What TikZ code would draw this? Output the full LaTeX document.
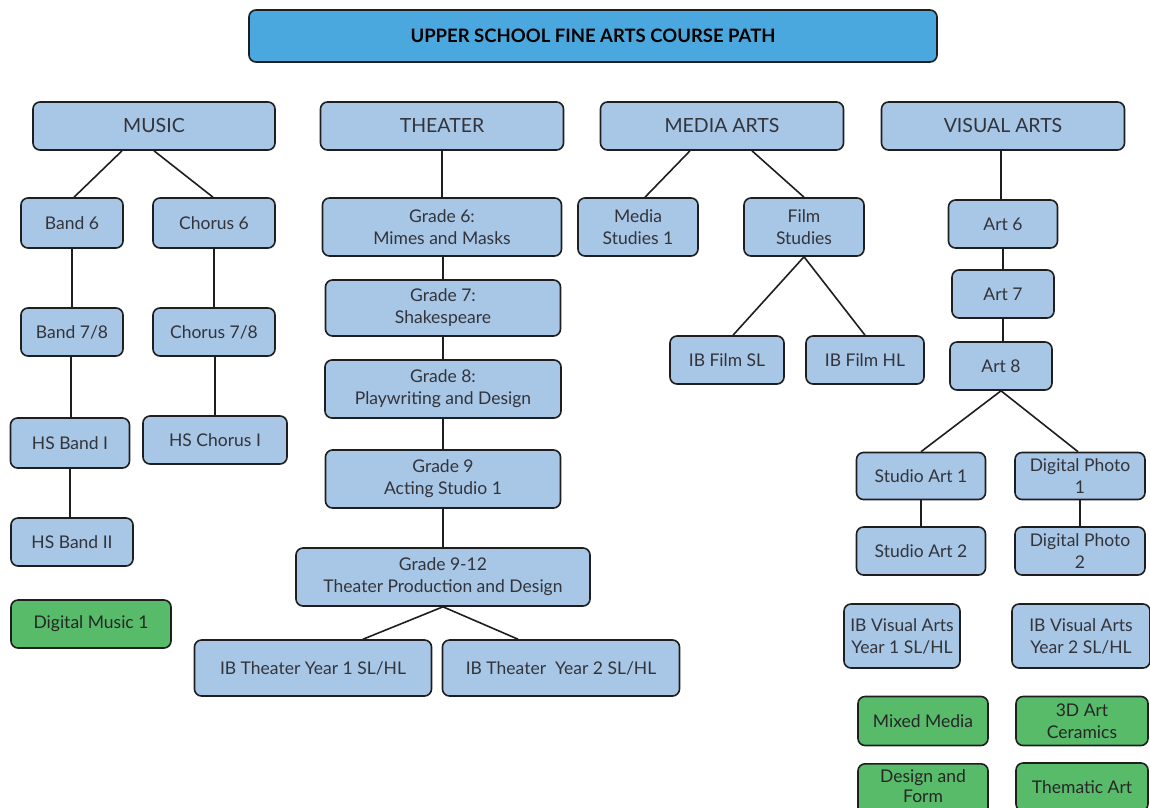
\documentclass[tikz,border=0pt]{standalone}
\usepackage{fontspec}
\setmainfont{Lato}
\definecolor{titleblue}{RGB}{74,168,222}
\definecolor{boxblue}{RGB}{168,198,230}
\definecolor{boxgreen}{RGB}{87,187,106}
\definecolor{textgray}{RGB}{50,52,58}
\definecolor{edge}{RGB}{30,30,30}
\tikzset{
  box/.style={draw=edge, line width=1.6pt, rounded corners=7pt, fill=boxblue, text=textgray,
    align=center, inner sep=1pt, font=\fontsize{17.5}{22}\selectfont},
  gbox/.style={box, fill=boxgreen, text=black!85},
  cat/.style={box, font=\fontsize{19.5}{23}\selectfont},
  titlebox/.style={box, fill=titleblue, text=black, font=\fontsize{18.5}{22}\selectfont\bfseries},
  conn/.style={draw=edge, line width=1.6pt},
}
\newcommand{\bx}[7]{\node[#1, minimum width=#5pt, minimum height=#6pt] (#2) at (#3,#4) {#7};}
\begin{document}
\begin{tikzpicture}[x=1pt,y=-1pt]
\useasboundingbox (0,0) rectangle (1150,807);
\clip (0,0) rectangle (1150,807);
\bx{titlebox}{title}{593}{36}{688}{52}{UPPER SCHOOL FINE ARTS COURSE PATH}
% categories
\bx{cat}{music}{154}{126}{242}{48}{MUSIC}
\bx{cat}{theater}{442}{126}{243}{48}{THEATER}
\bx{cat}{media}{722}{126}{243}{48}{MEDIA ARTS}
\bx{cat}{visual}{1003}{126}{243}{48}{VISUAL ARTS}
% music
\bx{box}{band6}{72}{223}{102}{50}{Band 6}
\bx{box}{chorus6}{214}{223}{122}{50}{Chorus 6}
\bx{box}{band78}{72}{332}{102}{48}{Band 7/8}
\bx{box}{chorus78}{214}{332}{122}{48}{Chorus 7/8}
\bx{box}{hsband1}{70}{443}{119}{50}{HS Band I}
\bx{box}{hschorus1}{215}{440}{144}{48}{HS Chorus I}
\bx{box}{hsband2}{72}{542}{122}{48}{HS Band II}
\bx{gbox}{dmusic}{91}{624}{160}{48}{Digital Music 1}
% theater
\bx{box}{g6}{442}{227}{239}{58}{Grade 6:\\Mimes and Masks}
\bx{box}{g7}{443}{308}{235}{56}{Grade 7:\\Shakespeare}
\bx{box}{g8}{443}{389}{236}{58}{Grade 8:\\Playwriting and Design}
\bx{box}{g9}{443}{479}{235}{58}{Grade 9\\Acting Studio 1}
\bx{box}{g912}{443}{577}{294}{58}{Grade 9-12\\Theater Production and Design}
\bx{box}{ibt1}{313}{668}{237}{56}{IB Theater Year 1 SL/HL}
\bx{box}{ibt2}{561}{668}{237}{56}{IB Theater~ Year 2 SL/HL}
% media arts
\bx{box}{mstud}{638}{227}{120}{58}{Media\\Studies 1}
\bx{box}{film}{804}{227}{120}{58}{Film\\Studies}
\bx{box}{ibfsl}{727}{360}{114}{48}{IB Film SL}
\bx{box}{ibfhl}{865}{360}{118}{48}{IB Film HL}
% visual arts
\bx{box}{art6}{1003}{224}{109}{48}{Art 6}
\bx{box}{art7}{1003}{294}{102}{48}{Art 7}
\bx{box}{art8}{1001}{366}{102}{48}{Art 8}
\bx{box}{sa1}{921}{476}{129}{47}{Studio Art 1}
\bx{box}{dp1}{1080}{476}{130}{47}{Digital Photo\\1}
\bx{box}{sa2}{921}{551}{129}{48}{Studio Art 2}
\bx{box}{dp2}{1080}{551}{130}{48}{Digital Photo\\2}
\bx{box}{ibva1}{902}{636}{116}{64}{IB Visual Arts\\Year 1 SL/HL}
\bx{box}{ibva2}{1081}{636}{138}{64}{IB Visual Arts\\Year 2 SL/HL}
\bx{gbox}{mixed}{923}{721}{130}{49}{Mixed Media}
\bx{gbox}{ceram}{1082}{721}{132}{49}{3D Art\\Ceramics}
\node[gbox, minimum width=130pt, minimum height=52pt, text depth=0pt, anchor=north] (design) at (923,763) {};
\node[font=\fontsize{17.5}{20}\selectfont, text=black!85, align=center, inner sep=0pt, anchor=north] (designtxt) at ([yshift=-6pt]design.north) {Design and\\Form};
\bx{gbox}{thematic}{1082}{787}{132}{48}{Thematic Art}
% connectors music
\draw[conn] ([xshift=-32pt]music.south) -- ([xshift=2pt]band6.north);
\draw[conn] (music.south) -- ([xshift=-1pt]chorus6.north);
\draw[conn] (band6.south) -- (band78.north);
\draw[conn] (chorus6.south) -- (chorus78.north);
\draw[conn] ([xshift=-1pt]band78.south) -- ([xshift=1pt]hsband1.north);
\draw[conn] (hsband1.south) -- ([xshift=-2pt]hsband2.north);
\draw[conn] ([xshift=1pt]chorus78.south) -- (hschorus1.north);
% connectors theater
\draw[conn] (theater.south) -- (g6.north);
\draw[conn] ([xshift=1pt]g6.south) -- (g7.north);
\draw[conn] (g7.south) -- (g8.north);
\draw[conn] (g8.south) -- (g9.north);
\draw[conn] (g9.south) -- (g912.north);
\draw[conn] (g912.south) -- ([xshift=50pt]ibt1.north);
\draw[conn] (g912.south) -- ([xshift=-43pt]ibt2.north);
% connectors media
\draw[conn] ([xshift=-32pt]media.south) -- ([xshift=7pt]mstud.north);
\draw[conn] ([xshift=30pt]media.south) -- (film.north);
\draw[conn] (film.south) -- ([xshift=6pt]ibfsl.north);
\draw[conn] (film.south) -- (ibfhl.north);
% connectors visual
\draw[conn] ([xshift=-2pt]visual.south) -- ([xshift=-2pt]art6.north);
\draw[conn] (art6.south) -- (art7.north);
\draw[conn] (art7.south) -- ([xshift=2pt]art8.north);
\draw[conn] (art8.south) -- (sa1.north);
\draw[conn] (art8.south) -- ([xshift=-2pt]dp1.north);
\draw[conn] (sa1.south) -- (sa2.north);
\draw[conn] (dp1.south) -- (dp2.north);
\end{tikzpicture}
\end{document}
